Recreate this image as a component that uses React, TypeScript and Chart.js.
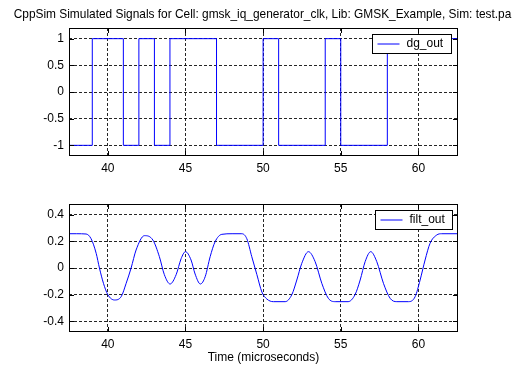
import React, { useEffect, useRef } from 'react';
import { Chart, registerables } from 'chart.js';

Chart.register(...registerables);

const titleText = 'CppSim Simulated Signals for Cell: gmsk_iq_generator_clk, Lib: GMSK_Example, Sim: test.par';
const xAxisLabel = 'Time (microseconds)';
const xMin = 37.5;
const xMax = 62.55;
const xTicks = [40, 45, 50, 55, 60];

const dgLabel = 'dg_out';
const dgTimes = [37.5, 39, 41, 42, 43, 44, 47, 50, 51, 54, 55, 58, 62.55];
const dgValues = [-1, 1, -1, 1, -1, 1, -1, 1, -1, 1, -1, 1, 1];
const dgYTicks = [-1, -0.5, 0, 0.5, 1];
const dgYMin = -1.2;
const dgYMax = 1.2;

const filtLabel = 'filt_out';
const filtTimes = [37.5, 38.0, 38.6, 38.92, 39.25, 39.46, 39.72, 40.0, 40.43, 40.86, 41.18, 41.5, 41.82, 42.36, 42.9, 43.32, 43.64, 44.01, 44.4, 44.72, 45.0, 45.36, 45.62, 45.96, 46.27, 46.59, 46.91, 47.34, 48.0, 48.63, 48.95, 49.27, 49.6, 49.92, 50.24, 50.66, 51.42, 51.85, 52.17, 52.49, 52.92, 53.35, 53.78, 54.2, 54.64, 55.47, 55.92, 56.25, 56.57, 56.93, 57.32, 57.75, 58.18, 58.61, 59.36, 59.79, 60.11, 60.43, 60.75, 61.18, 61.5, 62.55];
const filtValues = [0.257, 0.257, 0.255, 0.22, 0.11, 0.0, -0.115, -0.2, -0.24, -0.215, -0.115, 0.0, 0.135, 0.2425, 0.21, 0.085, -0.05, -0.12, -0.05, 0.07, 0.1225, 0.06, -0.045, -0.12, -0.065, 0.085, 0.1975, 0.2525, 0.257, 0.257, 0.22, 0.085, -0.05, -0.18, -0.2325, -0.2525, -0.2525, -0.2, -0.09, 0.035, 0.1225, 0.0475, -0.115, -0.2275, -0.2525, -0.2525, -0.2, -0.09, 0.0475, 0.1225, 0.0475, -0.115, -0.2275, -0.2525, -0.2525, -0.215, -0.09, 0.06, 0.185, 0.2475, 0.257, 0.257];
const filtYTicks = [-0.4, -0.2, 0, 0.2, 0.4];
const filtYMin = -0.48;
const filtYMax = 0.48;

const FONT = 'Arial, "Liberation Sans", sans-serif';
const LINE_BLUE = 'rgb(0,0,255)';

const framePlugin = {
  id: 'frame',
  afterDatasetsDraw(chart: any, _args: any, opts: any) {
    const ctx = chart.ctx;
    const a = chart.chartArea;
    const xs = chart.scales.x;
    const ys = chart.scales.y;
    ctx.save();
    ctx.strokeStyle = '#000';
    ctx.lineWidth = 1;
    ctx.setLineDash([]);
    const tl = 5;
    ctx.beginPath();
    xs.ticks.forEach((t: any) => {
      const px = Math.round(xs.getPixelForValue(t.value)) + 0.5;
      ctx.moveTo(px, a.top);
      ctx.lineTo(px, a.top + tl);
      ctx.moveTo(px, a.bottom);
      ctx.lineTo(px, a.bottom - tl);
    });
    ys.ticks.forEach((t: any) => {
      const py = Math.round(ys.getPixelForValue(t.value)) + 0.5;
      ctx.moveTo(a.left, py);
      ctx.lineTo(a.left + tl, py);
      ctx.moveTo(a.right, py);
      ctx.lineTo(a.right - tl, py);
    });
    ctx.stroke();
    ctx.strokeRect(Math.round(a.left) + 0.5, Math.round(a.top) + 0.5, Math.round(a.right - a.left) - 1, Math.round(a.bottom - a.top) - 1);

    const ds = chart.data.datasets[0];
    ctx.font = `12px ${FONT}`;
    const tw = ctx.measureText(ds.label).width;
    const bw = Math.round(34 + tw + 8);
    const bh = 19;
    const bx = Math.round(a.right - opts.legendRight - bw) + 0.5;
    const by = Math.round(a.top + 6) + 0.5;
    ctx.fillStyle = '#fff';
    ctx.fillRect(bx, by, bw, bh);
    ctx.strokeStyle = '#000';
    ctx.strokeRect(bx, by, bw, bh);
    ctx.strokeStyle = ds.borderColor;
    ctx.beginPath();
    ctx.moveTo(bx + 5, by + bh / 2);
    ctx.lineTo(bx + 27, by + bh / 2);
    ctx.stroke();
    ctx.fillStyle = '#000';
    ctx.textBaseline = 'middle';
    ctx.textAlign = 'left';
    ctx.fillText(ds.label, bx + 34, by + bh / 2);

    if (opts.title) {
      ctx.font = `11.9px ${FONT}`;
      ctx.textAlign = 'center';
      ctx.textBaseline = 'alphabetic';
      ctx.fillText(opts.title, (a.left + a.right) / 2 + 1, 18);
    }
    ctx.restore();
  },
};

function makeConfig(
  label: string,
  times: number[],
  values: number[],
  yMin: number,
  yMax: number,
  yTicks: number[],
  stepped: boolean,
  padTop: number,
  xHeight: number,
  xTitle: string | null,
  title: string | null,
  legendRight: number
): any {
  return {
    type: 'line',
    data: {
      datasets: [
        {
          label,
          data: times.map((t, i) => ({ x: t, y: values[i] })),
          borderColor: LINE_BLUE,
          backgroundColor: LINE_BLUE,
          borderWidth: 1,
          pointRadius: 0,
          fill: false,
          stepped: stepped ? 'before' : false,
          cubicInterpolationMode: stepped ? 'default' : 'monotone',
          tension: 0,
        },
      ],
    },
    options: {
      animation: false,
      responsive: true,
      maintainAspectRatio: false,
      events: [],
      layout: { padding: { top: padTop, left: 0, right: 54, bottom: 0 } },
      plugins: {
        legend: { display: false },
        tooltip: { enabled: false },
        title: { display: false },
        frame: { title, legendRight },
      },
      scales: {
        x: {
          type: 'linear',
          min: xMin,
          max: xMax,
          afterBuildTicks: (s: any) => {
            s.ticks = xTicks.map((v) => ({ value: v }));
          },
          afterFit: (s: any) => {
            s.height = xHeight;
          },
          grid: { color: 'rgba(0,0,0,0.85)', lineWidth: 1, drawTicks: false },
          border: { display: false, dash: [3, 2] },
          ticks: {
            color: '#000',
            font: { family: FONT, size: 12 },
            padding: 5,
            maxRotation: 0,
            autoSkip: false,
            callback: (v: any) => String(v),
          },
          title: {
            display: !!xTitle,
            text: xTitle || '',
            color: '#000',
            font: { family: FONT, size: 12 },
            padding: { top: 0, bottom: 0 },
          },
        },
        y: {
          type: 'linear',
          min: yMin,
          max: yMax,
          afterBuildTicks: (s: any) => {
            s.ticks = yTicks.map((v) => ({ value: v }));
          },
          afterFit: (s: any) => {
            s.width = 69;
          },
          grid: { color: 'rgba(0,0,0,0.85)', lineWidth: 1, drawTicks: false },
          border: { display: false, dash: [3, 2] },
          ticks: {
            color: '#000',
            font: { family: FONT, size: 12 },
            padding: 5,
            autoSkip: false,
            callback: (v: any) => String(v),
          },
        },
      },
    },
    plugins: [framePlugin],
  };
}

export default function App() {
  const topRef = useRef<HTMLCanvasElement | null>(null);
  const botRef = useRef<HTMLCanvasElement | null>(null);

  useEffect(() => {
    const top = new Chart(
      topRef.current as HTMLCanvasElement,
      makeConfig(dgLabel, dgTimes, dgValues, dgYMin, dgYMax, dgYTicks, true, 28, 26, null, titleText, 7)
    );
    const bot = new Chart(
      botRef.current as HTMLCanvasElement,
      makeConfig(filtLabel, filtTimes, filtValues, filtYMin, filtYMax, filtYTicks, false, 22, 33, xAxisLabel, null, 6)
    );
    return () => {
      top.destroy();
      bot.destroy();
    };
  }, []);

  return (
    <div style={{ position: 'absolute', left: 0, top: 0, width: 512, height: 365, background: '#fff' }}>
      <div style={{ position: 'absolute', left: 0, top: 0, width: 512, height: 182 }}>
        <canvas ref={topRef} />
      </div>
      <div style={{ position: 'absolute', left: 0, top: 182, width: 512, height: 183 }}>
        <canvas ref={botRef} />
      </div>
    </div>
  );
}
